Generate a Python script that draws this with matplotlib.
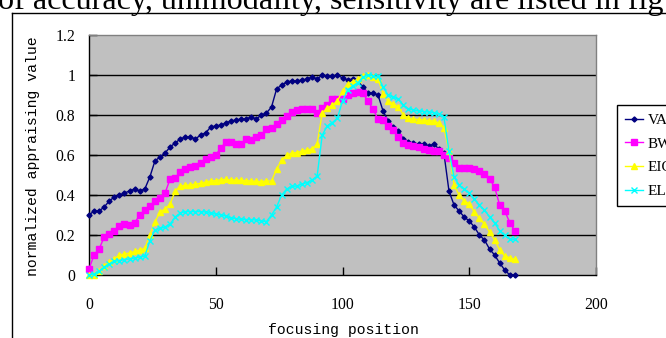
import matplotlib
matplotlib.use("Agg")
import matplotlib.pyplot as plt
from matplotlib.lines import Line2D

# ---------------- data ----------------
positions = list(range(0, 169, 2))

var_vals = [0.30, 0.32, 0.32, 0.34, 0.37, 0.39, 0.40, 0.41, 0.42, 0.43,
            0.42, 0.43, 0.49, 0.57, 0.59, 0.61, 0.64, 0.66, 0.68, 0.69,
            0.69, 0.68, 0.70, 0.71, 0.74, 0.745, 0.75, 0.76, 0.77, 0.775,
            0.78, 0.78, 0.79, 0.78, 0.80, 0.81, 0.84, 0.93, 0.95, 0.965,
            0.97, 0.97, 0.975, 0.98, 0.99, 0.98, 1.00, 0.995, 0.995, 1.00,
            0.985, 0.975, 0.98, 0.97, 0.94, 0.91, 0.91, 0.90, 0.82, 0.77,
            0.74, 0.72, 0.68, 0.665, 0.66, 0.655, 0.655, 0.645, 0.655, 0.63,
            0.61, 0.42, 0.35, 0.32, 0.29, 0.27, 0.24, 0.20, 0.175, 0.13,
            0.10, 0.06, 0.025, 0.00, 0.00]

bw_vals = [0.03, 0.10, 0.13, 0.19, 0.205, 0.22, 0.245, 0.255, 0.25, 0.26,
           0.30, 0.325, 0.345, 0.37, 0.385, 0.41, 0.48, 0.485, 0.515, 0.53,
           0.54, 0.545, 0.56, 0.58, 0.59, 0.60, 0.635, 0.665, 0.665, 0.655,
           0.655, 0.68, 0.675, 0.69, 0.70, 0.73, 0.735, 0.755, 0.775, 0.795,
           0.815, 0.825, 0.828, 0.83, 0.83, 0.81, 0.835, 0.85, 0.878, 0.878,
           0.88, 0.90, 0.91, 0.913, 0.91, 0.87, 0.83, 0.78, 0.775, 0.745,
           0.725, 0.69, 0.66, 0.65, 0.645, 0.64, 0.63, 0.625, 0.622, 0.618,
           0.60, 0.585, 0.56, 0.535, 0.535, 0.535, 0.53, 0.52, 0.505, 0.48,
           0.44, 0.35, 0.32, 0.262, 0.22]

eig_vals = [0.00, 0.00, 0.02, 0.045, 0.065, 0.08, 0.10, 0.105, 0.11, 0.118,
            0.125, 0.133, 0.20, 0.265, 0.315, 0.33, 0.355, 0.42, 0.445, 0.448,
            0.45, 0.455, 0.458, 0.465, 0.47, 0.472, 0.476, 0.478, 0.475, 0.475,
            0.473, 0.472, 0.47, 0.468, 0.467, 0.47, 0.47, 0.53, 0.575, 0.598,
            0.61, 0.612, 0.62, 0.625, 0.63, 0.655, 0.81, 0.835, 0.85, 0.87,
            0.92, 0.955, 0.965, 0.98, 0.995, 1.00, 0.99, 0.98, 0.905, 0.87,
            0.855, 0.842, 0.80, 0.783, 0.78, 0.777, 0.775, 0.772, 0.77, 0.76,
            0.735, 0.62, 0.45, 0.40, 0.37, 0.357, 0.315, 0.283, 0.255, 0.215,
            0.175, 0.125, 0.095, 0.086, 0.078]

ell_vals = [0.00, 0.005, 0.02, 0.04, 0.055, 0.068, 0.072, 0.077, 0.08, 0.085,
            0.09, 0.095, 0.17, 0.225, 0.233, 0.24, 0.255, 0.29, 0.31, 0.317,
            0.317, 0.317, 0.317, 0.315, 0.308, 0.305, 0.30, 0.295, 0.285, 0.282,
            0.278, 0.277, 0.277, 0.275, 0.27, 0.267, 0.30, 0.34, 0.40, 0.43,
            0.443, 0.445, 0.455, 0.462, 0.475, 0.495, 0.70, 0.745, 0.762, 0.785,
            0.87, 0.925, 0.945, 0.96, 0.99, 1.00, 0.995, 0.995, 0.94, 0.90,
            0.89, 0.88, 0.85, 0.83, 0.825, 0.82, 0.817, 0.815, 0.812, 0.805,
            0.79, 0.62, 0.49, 0.45, 0.43, 0.41, 0.38, 0.35, 0.325, 0.29,
            0.26, 0.222, 0.198, 0.18, 0.178]

series_names = ["VAR", "BW", "EIG", "ELL"]
x_ticks = [0, 50, 100, 150, 200]
y_ticks = [0, 0.2, 0.4, 0.6, 0.8, 1.0, 1.2]
x_label = "focusing position"
y_label = "normalized appraising value"
caption = "of accuracy, unimodality, sensitivity are listed in fig"

# ---------------- figure ----------------
W, H = 666, 338
fig = plt.figure(figsize=(W / 100, H / 100), dpi=100)
fig.patch.set_facecolor("white")

# caption fragment at the top (cut off by the page crop)
fig.text(-2 / W, 1 - 9 / H, caption, family="Liberation Serif",
         fontsize=23.1, ha="left", va="baseline", color="black")

# outer chart frame (partly outside the crop)
fig.add_artist(Line2D([11.7 / W, 1.0], [1 - 13.3 / H, 1 - 13.3 / H],
                      transform=fig.transFigure, color="black", lw=1.0))
fig.add_artist(Line2D([11.7 / W, 11.7 / W], [0.0, 1 - 13.3 / H],
                      transform=fig.transFigure, color="black", lw=1.0))

ax = fig.add_axes([89 / W, 1 - 275 / H, (596 - 89) / W, (275 - 35) / H])
ax.set_facecolor("#C0C0C0")
ax.set_xlim(0, 200)
ax.set_ylim(0, 1.2)

for yv in y_ticks[1:-1]:
    ax.axhline(yv, color="black", lw=1.0, zorder=1)

styles = [
    dict(color="#000080", marker="D", markersize=2.6),
    dict(color="#FF00FF", marker="s", markersize=4.2),
    dict(color="#FFFF00", marker="^", markersize=4.2),
    dict(color="#00FFFF", marker="x", markersize=3.8, markeredgewidth=1.0),
]
for name, vals, st in zip(series_names, [var_vals, bw_vals, eig_vals, ell_vals], styles):
    ax.plot(positions, vals, lw=1.0, label=name, clip_on=False, zorder=3, **st)

for side in ["top", "right"]:
    ax.spines[side].set_color("#808080")
    ax.spines[side].set_linewidth(1.0)
for side in ["left", "bottom"]:
    ax.spines[side].set_color("black")
    ax.spines[side].set_linewidth(1.0)

ax.set_xticks(x_ticks)
ax.set_xticklabels([str(v) for v in x_ticks])
ax.set_yticks(y_ticks)
ax.set_yticklabels(["%g" % v for v in y_ticks])
ax.tick_params(axis="both", direction="in", length=6, width=1.0, colors="black")
ax.tick_params(axis="x", pad=15.5)
ax.tick_params(axis="y", pad=10)
for lab in ax.get_xticklabels() + ax.get_yticklabels():
    lab.set_family("Liberation Serif")
    lab.set_fontsize(11.3)

fig.text(343 / W, 1 - 330 / H, x_label, family="Liberation Mono", fontsize=10.6,
         ha="center", va="center")
fig.text(33 / W, 1 - 156 / H, y_label, family="Liberation Mono", fontsize=10.6,
         ha="center", va="center", rotation=90)

leg = fig.legend(loc="upper left", bbox_to_anchor=(617 / W, 1 - 105 / H),
                 bbox_transform=fig.transFigure, frameon=True, fancybox=False,
                 edgecolor="black", facecolor="white", framealpha=1.0,
                 borderaxespad=0.0, borderpad=0.55, handlelength=1.15,
                 handletextpad=0.3, labelspacing=0.65,
                 prop={"family": "Liberation Serif", "size": 11})
leg.get_frame().set_linewidth(1.0)

fig.savefig("out.png", dpi=100)
